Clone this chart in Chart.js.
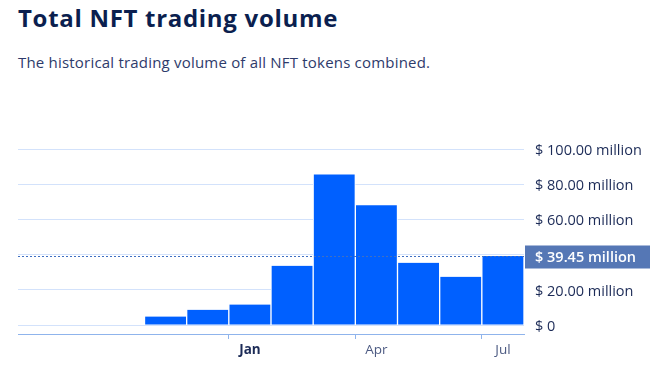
<!DOCTYPE html>
<html>
<head>
<meta charset="utf-8">
<script src="https://cdn.jsdelivr.net/npm/chart.js@4"></script>
<style>
  body { margin: 0; width: 669px; height: 373px; background: #fff; overflow: hidden; position: relative; font-family: "Open Sans", sans-serif; }
  h1 { position: absolute; left: 18px; top: 1px; margin: 0; font-size: 24px; font-weight: 700; color: #0b1f4f; letter-spacing: 0.7px; }
  p { position: absolute; left: 18px; top: 52px; margin: 0; font-size: 15px; color: #2e3b6b; letter-spacing: 0.2px; }
  #wrap { position: absolute; left: 0; top: 130px; width: 669px; height: 243px; }
</style>
</head>
<body>
<h1>Total NFT trading volume</h1>
<p>The historical trading volume of all NFT tokens combined.</p>
<div id="wrap"><canvas id="chart"></canvas></div>
<script>
// months, Aug..Jul (first three have no data)
var months = ['Aug', 'Sep', 'Oct', 'Nov', 'Dec', 'Jan', 'Feb', 'Mar', 'Apr', 'May', 'Jun', 'Jul'];
var volume = [null, null, null, 4.9, 8.7, 11.7, 33.8, 85.9, 68.3, 35.5, 27.5, 39.45]; // $ million
var shownMonths = ['Jan', 'Apr', 'Jul'];
var yTicks = [0, 20, 40, 60, 80, 100];
var latest = 39.45;

var navy = '#1c2b57';

// dotted line + label for the latest value
var latestLine = {
  id: 'latestLine',
  afterDatasetsDraw: function (chart) {
    var ctx = chart.ctx;
    var area = chart.chartArea;
    var y = Math.round(chart.scales.y.getPixelForValue(latest)) + 0.5;
    ctx.save();
    ctx.strokeStyle = '#3f6fc2';
    ctx.lineWidth = 1;
    ctx.setLineDash([2, 2]);
    ctx.beginPath();
    ctx.moveTo(area.left, y);
    ctx.lineTo(area.right + 1, y);
    ctx.stroke();
    ctx.setLineDash([]);
    ctx.fillStyle = '#5577b5';
    ctx.fillRect(area.right + 1, y - 11, 125, 23);
    ctx.fillStyle = '#fff';
    ctx.font = '600 14.5px "Open Sans"';
    ctx.textBaseline = 'middle';
    ctx.fillText('$ ' + latest.toFixed(2) + ' million', area.right + 11, y + 1);
    ctx.restore();
  }
};

new Chart(document.getElementById('chart'), {
  type: 'bar',
  data: {
    labels: months,
    datasets: [{
      data: volume,
      backgroundColor: '#0060ff',
      borderColor: '#ffffff',
      borderWidth: { left: 1, right: 1, top: 0, bottom: 0 },
      borderSkipped: false,
      categoryPercentage: 1,
      barPercentage: 1
    }]
  },
  options: {
    responsive: true,
    maintainAspectRatio: false,
    animation: false,
    layout: { padding: { left: 18, top: 12, right: 0, bottom: 0 } },
    plugins: { legend: { display: false }, tooltip: { enabled: false } },
    scales: {
      x: {
        grid: {
          drawOnChartArea: false,
          tickLength: 5,
          color: function (c) { return c.tick && c.tick.label ? '#8fb4ec' : 'rgba(0,0,0,0)'; }
        },
        border: { color: '#8fb4ec', width: 1 },
        ticks: {
          autoSkip: false,
          maxRotation: 0,
          padding: 3,
          color: function (c) { return c.tick && c.tick.label === 'Jan' ? navy : '#4c5a82'; },
          font: function (c) {
            return { family: '"Open Sans"', size: 13.5, weight: c.tick && c.tick.label === 'Jan' ? '700' : '400' };
          },
          callback: function (v) {
            var m = months[v];
            return shownMonths.indexOf(m) >= 0 ? m : '';
          }
        },
        afterFit: function (s) { s.height = 39; }
      },
      y: {
        position: 'right',
        min: -5.1,
        max: 100,
        afterBuildTicks: function (s) {
          s.ticks = yTicks.map(function (v) { return { value: v }; });
        },
        grid: { color: '#d3e2fb', drawTicks: false, lineWidth: 1 },
        border: { display: false },
        ticks: {
          padding: 11,
          labelOffset: 1.5,
          color: navy,
          font: { family: '"Open Sans"', size: 14.5 },
          callback: function (v) { return v === 0 ? '$ 0' : '$ ' + v.toFixed(2) + ' million'; }
        },
        afterFit: function (s) { s.width = 145; }
      }
    }
  },
  plugins: [latestLine]
});
</script>
</body>
</html>
